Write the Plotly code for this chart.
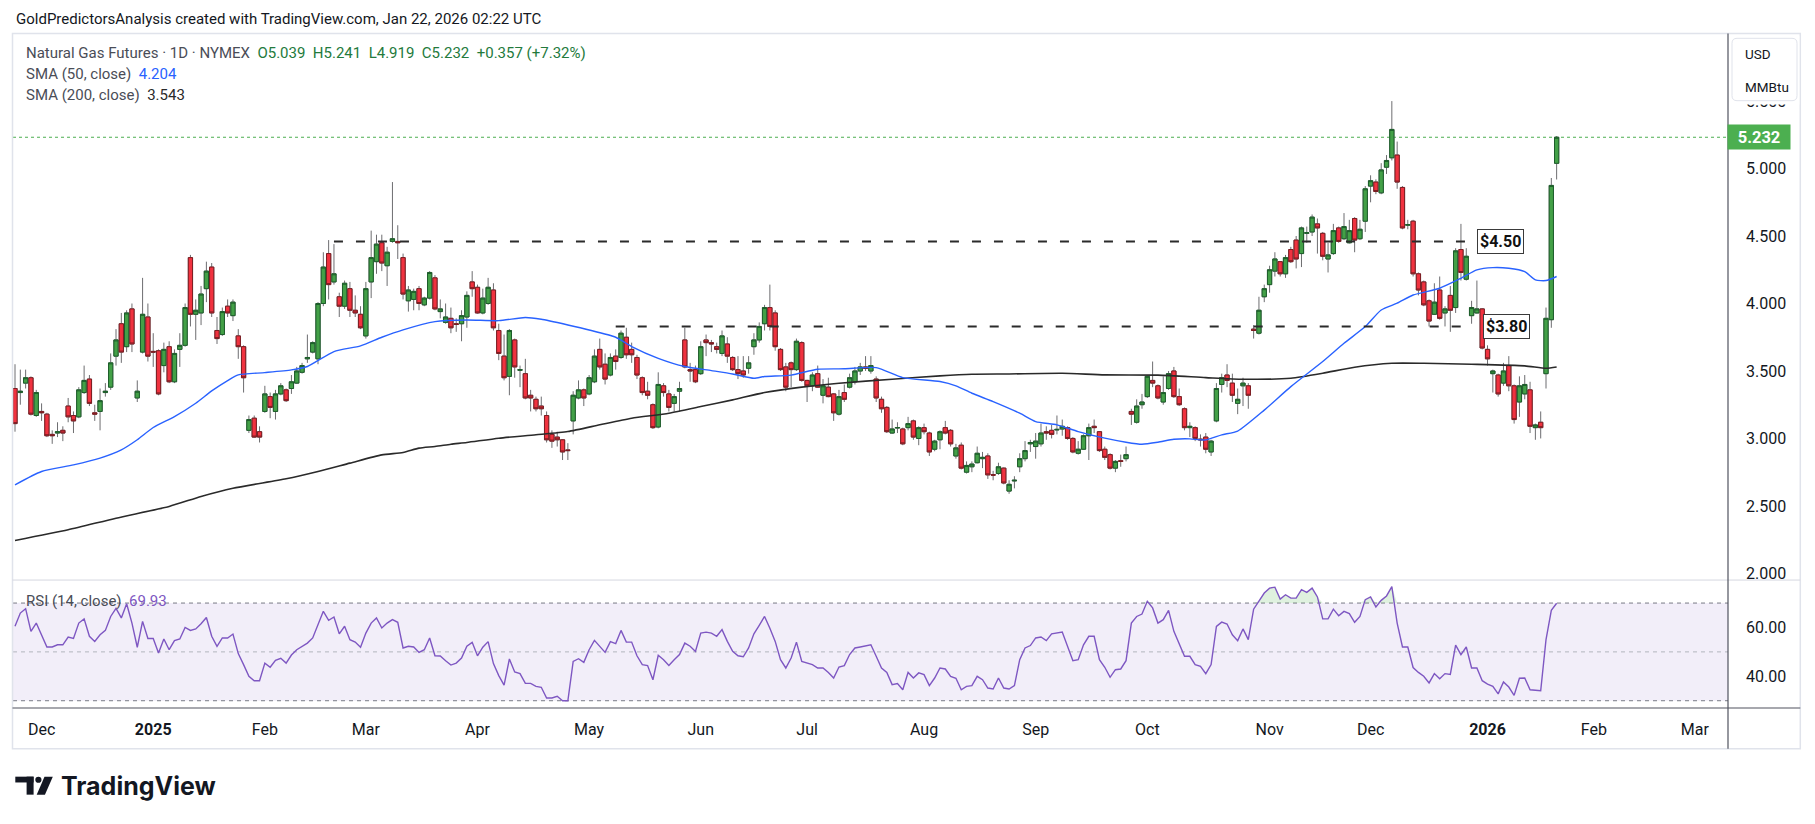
import plotly.graph_objects as go

W, H = 1815, 824
# plot area in page pixels
PL, PR = 12.7, 1727.7
PT, PB = 38.0, 708.3
SEP = 580.0          # bottom of price pane
RSI_TOP = 580.7
X0, SPACING = 14.7, 5.316   # pixel of bar 0 and bar spacing
PX_PER_UNIT = 135.0
LAST_PX = 137.3

# ---------------- data ----------------
open_ = [
    3.37, 3.34, 3.41, 3.45, 3.17, 3.20, 3.18, 3.03, 3.04, 3.06,
    3.24, 3.17, 3.16, 3.34, 3.44, 3.19, 3.20, 3.34, 3.38, 3.61,
    3.85, 3.68, 3.96, 3.30, 3.64, 3.90, 3.645, 3.65, 3.54, 3.68,
    3.42, 3.66, 3.69, 4.34, 3.92, 3.93, 4.11, 4.27, 3.80, 3.77,
    3.98, 3.91, 3.76, 3.68, 3.06, 3.15, 3.05, 3.20, 3.31, 3.20,
    3.33, 3.36, 3.37, 3.41, 3.49, 3.59, 3.64, 3.59, 4.00, 4.37,
    4.16, 4.05, 3.98, 4.11, 3.95, 3.92, 3.76, 4.16, 4.31, 4.45,
    4.28, 4.46, 4.46, 4.34, 4.02, 4.03, 4.11, 3.99, 4.04, 4.19,
    3.94, 3.86, 3.89, 3.85, 3.85, 3.90, 4.16, 4.12, 3.93, 4.00,
    4.10, 3.80, 3.61, 3.46, 3.73, 3.505, 3.48, 3.32, 3.29, 3.24,
    3.17, 3.03, 3.01, 2.99, 2.915, 3.13, 3.30, 3.36, 3.33, 3.42,
    3.66, 3.55, 3.47, 3.61, 3.60, 3.75, 3.66, 3.60, 3.45, 3.35,
    3.25, 3.085, 3.39, 3.33, 3.26, 3.35, 3.73, 3.51, 3.51, 3.48,
    3.73, 3.71, 3.68, 3.63, 3.70, 3.60, 3.51, 3.50, 3.52, 3.68,
    3.73, 3.85, 3.97, 3.93, 3.66, 3.53, 3.56, 3.51, 3.71, 3.43,
    3.39, 3.48, 3.32, 3.38, 3.33, 3.18, 3.34, 3.38, 3.42, 3.50,
    3.53, 3.50, 3.44, 3.29, 3.23, 3.04, 3.077, 3.07, 3.08, 3.13,
    3.00, 3.08, 3.04, 2.92, 2.99, 3.08, 3.06, 2.87, 2.95, 2.75,
    2.79, 2.82, 2.85, 2.87, 2.732, 2.74, 2.78, 2.61, 2.685, 2.79,
    2.85, 2.96, 2.94, 2.96, 3.05, 3.06, 3.063, 3.07, 3.08, 3.00,
    2.89, 2.92, 3.02, 3.09, 3.05, 2.92, 2.88, 2.78, 2.835, 2.85,
    3.20, 3.12, 3.25, 3.31, 3.43, 3.39, 3.27, 3.37, 3.50, 3.31,
    3.22, 3.08, 3.08, 2.995, 3.01, 2.90, 3.13, 3.40, 3.47, 3.41,
    3.26, 3.39, 3.39, 3.81, 3.78, 4.05, 4.14, 4.24, 4.31, 4.22,
    4.40, 4.47, 4.37, 4.52, 4.53, 4.59, 4.52, 4.33, 4.37, 4.56,
    4.48, 4.45, 4.63, 4.48, 4.61, 4.87, 4.90, 4.82, 5.01, 5.08,
    5.10, 4.86, 4.58, 4.61, 4.22, 4.16, 4.02, 3.92, 4.10, 3.93,
    4.06, 3.97, 4.40, 4.18, 3.91, 3.93, 3.96, 3.66, 3.48, 3.47,
    3.41, 3.54, 3.39, 3.27, 3.33, 3.36, 3.08, 3.12, 3.48, 3.88,
    5.039,
]
high = [
    3.55, 3.51, 3.51, 3.46, 3.36, 3.26, 3.19, 3.06, 3.12, 3.09,
    3.30, 3.20, 3.38, 3.54, 3.47, 3.25, 3.37, 3.41, 3.63, 3.81,
    3.93, 3.95, 4.00, 3.43, 4.19, 4.00, 3.78, 3.66, 3.71, 3.72,
    3.66, 3.78, 4.00, 4.36, 4.03, 4.13, 4.31, 4.30, 3.90, 3.97,
    4.03, 4.03, 3.81, 3.69, 3.17, 3.17, 3.09, 3.39, 3.34, 3.36,
    3.41, 3.37, 3.47, 3.53, 3.56, 3.77, 3.72, 4.01, 4.38, 4.47,
    4.44, 4.08, 4.17, 4.16, 4.06, 3.98, 4.16, 4.54, 4.51, 4.51,
    4.42, 4.90, 4.58, 4.37, 4.13, 4.11, 4.13, 4.05, 4.24, 4.21,
    4.03, 4.00, 3.97, 3.89, 3.95, 4.09, 4.24, 4.14, 4.11, 4.19,
    4.15, 3.85, 3.77, 3.81, 3.74, 3.54, 3.59, 3.36, 3.31, 3.31,
    3.20, 3.06, 3.05, 2.995, 2.965, 3.35, 3.43, 3.37, 3.47, 3.66,
    3.74, 3.63, 3.63, 3.66, 3.80, 3.82, 3.71, 3.62, 3.46, 3.42,
    3.26, 3.49, 3.41, 3.36, 3.33, 3.42, 3.82, 3.56, 3.54, 3.72,
    3.77, 3.73, 3.71, 3.80, 3.75, 3.61, 3.61, 3.61, 3.61, 3.78,
    3.86, 3.99, 4.14, 3.95, 3.67, 3.56, 3.57, 3.74, 3.72, 3.435,
    3.49, 3.54, 3.44, 3.45, 3.335, 3.36, 3.40, 3.48, 3.53, 3.56,
    3.61, 3.61, 3.46, 3.31, 3.24, 3.14, 3.12, 3.08, 3.16, 3.14,
    3.09, 3.11, 3.05, 2.99, 3.06, 3.13, 3.07, 2.96, 2.97, 2.83,
    2.83, 2.94, 2.90, 2.89, 2.76, 2.82, 2.785, 2.69, 2.72, 2.89,
    2.98, 2.99, 3.04, 3.11, 3.09, 3.10, 3.17, 3.14, 3.09, 3.01,
    2.98, 3.03, 3.11, 3.14, 3.055, 2.94, 2.89, 2.84, 2.88, 2.94,
    3.22, 3.29, 3.33, 3.465, 3.57, 3.40, 3.46, 3.50, 3.53, 3.37,
    3.23, 3.12, 3.09, 3.03, 3.04, 2.99, 3.41, 3.48, 3.55, 3.48,
    3.37, 3.45, 3.41, 3.84, 4.05, 4.14, 4.28, 4.38, 4.315, 4.36,
    4.42, 4.50, 4.57, 4.57, 4.66, 4.63, 4.53, 4.45, 4.59, 4.57,
    4.67, 4.62, 4.64, 4.62, 4.87, 4.95, 4.92, 5.04, 5.10, 5.50,
    5.20, 4.87, 4.62, 4.62, 4.23, 4.17, 4.03, 4.15, 4.20, 3.98,
    4.13, 4.41, 4.59, 4.41, 4.02, 4.17, 3.965, 3.69, 3.51, 3.48,
    3.56, 3.61, 3.40, 3.46, 3.47, 3.42, 3.11, 3.20, 3.97, 4.93,
    5.241,
]
low = [
    3.05, 3.25, 3.37, 3.17, 3.16, 3.13, 3.01, 2.96, 3.01, 2.98,
    3.12, 3.04, 3.15, 3.33, 3.24, 3.13, 3.06, 3.31, 3.36, 3.54,
    3.56, 3.64, 3.64, 3.27, 3.63, 3.57, 3.53, 3.32, 3.49, 3.41,
    3.41, 3.53, 3.68, 3.83, 3.73, 3.84, 4.01, 3.90, 3.70, 3.76,
    3.90, 3.87, 3.59, 3.34, 3.04, 3.005, 2.97, 3.19, 3.15, 3.14,
    3.32, 3.27, 3.33, 3.405, 3.48, 3.56, 3.63, 3.55, 3.98, 4.03,
    4.14, 3.90, 3.96, 3.90, 3.90, 3.81, 3.74, 4.04, 4.22, 4.24,
    4.13, 4.45, 4.33, 4.03, 3.94, 3.95, 3.95, 3.98, 4.03, 3.95,
    3.89, 3.85, 3.78, 3.79, 3.72, 3.82, 4.05, 3.925, 3.92, 3.99,
    3.80, 3.58, 3.43, 3.32, 3.45, 3.38, 3.29, 3.20, 3.20, 3.17,
    2.97, 2.93, 2.94, 2.84, 2.84, 3.03, 3.29, 3.24, 3.32, 3.41,
    3.51, 3.40, 3.46, 3.51, 3.59, 3.59, 3.56, 3.44, 3.32, 3.29,
    3.07, 3.075, 3.31, 3.20, 3.20, 3.20, 3.52, 3.42, 3.41, 3.47,
    3.61, 3.64, 3.63, 3.61, 3.56, 3.50, 3.44, 3.45, 3.48, 3.62,
    3.71, 3.80, 3.80, 3.65, 3.50, 3.35, 3.38, 3.50, 3.42, 3.27,
    3.35, 3.375, 3.26, 3.305, 3.13, 3.17, 3.27, 3.37, 3.40, 3.47,
    3.50, 3.48, 3.27, 3.19, 3.04, 3.035, 3.04, 2.95, 3.06, 2.99,
    2.95, 3.03, 2.87, 2.905, 2.92, 3.03, 2.94, 2.85, 2.77, 2.74,
    2.75, 2.815, 2.78, 2.70, 2.69, 2.73, 2.66, 2.59, 2.63, 2.75,
    2.83, 2.90, 2.85, 2.94, 2.99, 3.00, 3.03, 3.02, 2.99, 2.89,
    2.88, 2.915, 2.84, 3.04, 2.90, 2.84, 2.77, 2.75, 2.79, 2.83,
    3.10, 3.11, 3.22, 3.30, 3.38, 3.29, 3.25, 3.36, 3.30, 3.24,
    3.06, 3.01, 2.98, 2.94, 2.89, 2.87, 3.12, 3.34, 3.38, 3.27,
    3.18, 3.24, 3.22, 3.74, 3.77, 4.01, 4.08, 4.20, 4.20, 4.19,
    4.30, 4.26, 4.27, 4.45, 4.50, 4.37, 4.32, 4.23, 4.36, 4.45,
    4.47, 4.445, 4.38, 4.47, 4.53, 4.75, 4.81, 4.81, 4.96, 5.06,
    4.85, 4.55, 4.55, 4.20, 4.06, 3.98, 3.83, 3.915, 3.88, 3.83,
    3.79, 3.93, 4.17, 4.17, 3.85, 3.925, 3.66, 3.54, 3.34, 3.31,
    3.39, 3.35, 3.11, 3.16, 3.29, 3.04, 2.99, 3.00, 3.37, 3.82,
    4.919,
]
close = [
    3.11, 3.35, 3.45, 3.18, 3.34, 3.19, 3.02, 3.02, 3.05, 3.04,
    3.16, 3.13, 3.36, 3.43, 3.26, 3.18, 3.28, 3.35, 3.56, 3.73,
    3.64, 3.93, 3.70, 3.35, 3.92, 3.61, 3.64, 3.33, 3.66, 3.42,
    3.63, 3.69, 3.97, 3.92, 3.95, 4.07, 4.24, 3.93, 3.74, 3.94,
    3.93, 4.01, 3.68, 3.45, 3.14, 3.01, 3.01, 3.33, 3.23, 3.33,
    3.39, 3.28, 3.42, 3.50, 3.54, 3.60, 3.71, 4.00, 4.27, 4.14,
    4.22, 3.98, 4.15, 3.95, 3.93, 3.82, 4.11, 4.34, 4.44, 4.30,
    4.38, 4.48, 4.45, 4.07, 4.10, 4.09, 4.00, 4.04, 4.23, 3.96,
    3.96, 3.90, 3.82, 3.845, 3.91, 4.06, 4.11, 3.93, 4.04, 4.12,
    3.82, 3.63, 3.45, 3.80, 3.53, 3.51, 3.30, 3.30, 3.22, 3.22,
    2.99, 2.98, 2.99, 2.90, 2.91, 3.32, 3.36, 3.30, 3.45, 3.61,
    3.53, 3.44, 3.60, 3.57, 3.78, 3.62, 3.62, 3.47, 3.34, 3.32,
    3.08, 3.40, 3.34, 3.23, 3.31, 3.37, 3.53, 3.50, 3.42, 3.68,
    3.71, 3.70, 3.66, 3.76, 3.61, 3.51, 3.48, 3.47, 3.56, 3.73,
    3.83, 3.97, 3.83, 3.68, 3.51, 3.38, 3.51, 3.72, 3.43, 3.39,
    3.47, 3.38, 3.39, 3.31, 3.19, 3.31, 3.29, 3.45, 3.50, 3.53,
    3.52, 3.54, 3.30, 3.22, 3.05, 3.07, 3.081, 2.96, 3.11, 3.01,
    3.08, 3.05, 2.90, 2.98, 3.05, 3.04, 2.96, 2.93, 2.78, 2.80,
    2.81, 2.89, 2.86, 2.73, 2.728, 2.79, 2.67, 2.66, 2.69, 2.85,
    2.91, 2.97, 2.98, 3.04, 3.04, 3.03, 3.067, 3.09, 3.00, 2.90,
    2.92, 3.02, 3.08, 3.08, 2.91, 2.86, 2.78, 2.83, 2.83, 2.88,
    3.18, 3.24, 3.27, 3.46, 3.41, 3.30, 3.34, 3.48, 3.31, 3.25,
    3.08, 3.09, 3.00, 2.99, 2.92, 2.98, 3.37, 3.45, 3.43, 3.32,
    3.29, 3.41, 3.32, 3.80, 3.95, 4.11, 4.25, 4.33, 4.22, 4.34,
    4.31, 4.33, 4.56, 4.525, 4.64, 4.56, 4.35, 4.36, 4.54, 4.46,
    4.57, 4.54, 4.47, 4.55, 4.85, 4.91, 4.83, 4.99, 5.06, 5.29,
    4.90, 4.56, 4.585, 4.22, 4.10, 3.99, 3.87, 4.01, 3.89, 3.96,
    3.95, 4.39, 4.23, 4.35, 3.97, 3.96, 3.67, 3.59, 3.50, 3.33,
    3.50, 3.39, 3.14, 3.39, 3.40, 3.09, 3.10, 3.08, 3.89, 4.875,
    5.232,
]

sma50_idx = [0, 5, 11, 16, 20, 23, 26, 30, 34, 37, 40, 42, 47, 52, 55, 60, 65, 69,
             73, 79, 85, 91, 96, 99, 104, 108, 113, 116, 121, 126, 131, 135, 139,
             141, 146, 151, 156, 162, 167, 174, 177, 180, 184, 189, 192, 196, 200,
             205, 209, 212, 215, 218, 221, 224, 227, 230, 235, 240, 246, 250, 254,
             257, 260, 263, 268, 272, 275, 278, 281, 284, 286, 288, 290]
sma50_val = [2.656, 2.755, 2.804, 2.854, 2.915, 2.990, 3.081, 3.162, 3.261, 3.352,
             3.429, 3.471, 3.488, 3.508, 3.533, 3.644, 3.686, 3.750, 3.805, 3.866,
             3.878, 3.873, 3.896, 3.883, 3.841, 3.804, 3.750, 3.681, 3.594, 3.533,
             3.503, 3.478, 3.446, 3.459, 3.469, 3.513, 3.516, 3.525, 3.451, 3.422,
             3.390, 3.335, 3.273, 3.187, 3.125, 3.101, 3.051, 3.002, 2.972, 2.957,
             2.972, 2.994, 2.997, 2.989, 3.027, 3.055, 3.210, 3.384, 3.570, 3.705,
             3.829, 3.952, 4.002, 4.063, 4.113, 4.187, 4.249, 4.266, 4.261, 4.236,
             4.175, 4.170, 4.200]

sma200_idx = [0, 10, 19, 29, 35, 41, 51, 57, 63, 69, 73, 76, 79, 82, 85, 91, 98,
              104, 110, 116, 123, 129, 135, 141, 148, 155, 165, 174, 180, 187, 197,
              205, 215, 224, 231, 240, 246, 252, 259, 265, 274, 284, 288, 290]
sma200_val = [2.244, 2.323, 2.409, 2.496, 2.570, 2.631, 2.701, 2.755, 2.817, 2.878,
              2.896, 2.928, 2.940, 2.957, 2.970, 3.002, 3.027, 3.051, 3.101, 3.150,
              3.187, 3.236, 3.286, 3.340, 3.380, 3.409, 3.439, 3.464, 3.476, 3.478,
              3.483, 3.471, 3.469, 3.451, 3.439, 3.446, 3.483, 3.528, 3.557, 3.557,
              3.550, 3.538, 3.520, 3.530]

rsi = [
    60.5, 65.9, 67.7, 58.4, 61.8, None, 52.0, 52.0, 52.9, 52.9,
    56.1, 55.5, 61.8, 63.5, 56.4, 54.3, 57.0, 58.8, 64.5, 67.8,
    63.9, 69.7, 61.8, 51.9, 62.5, 55.5, 55.5, 49.5, 55.3, 50.9,
    54.6, 55.3, 60.0, 58.8, 59.4, 61.5, 64.1, 56.4, 52.3, 55.7,
    55.7, 57.3, 49.3, 44.8, 40.0, 38.2, 38.2, 45.4, 43.7, 46.5,
    47.4, 45.4, 48.7, 50.9, 52.3, 53.6, 55.7, 61.1, 66.6, 62.9,
    64.3, 57.4, 60.5, 55.0, 54.0, 51.9, 57.7, 61.8, 63.9, 59.8,
    61.8, 63.2, 62.1, 51.6, 52.3, 52.0, 49.8, 50.9, 55.7, 48.4,
    48.3, 46.4, 44.6, 45.4, 47.5, 52.3, 53.9, 48.4, 51.9, 54.2,
    45.2, 40.3, 36.4, 47.1, 41.8, 41.1, 37.1, 37.1, 35.9, 35.5,
    31.1, 31.1, 31.8, 30.0, 30.0, 46.1, 47.2, 45.7, 50.9, 54.7,
    52.3, 49.8, 54.2, 53.4, 58.8, 54.0, 54.0, 48.4, 44.8, 44.4,
    38.6, 48.6, 46.8, 44.4, 46.8, 48.9, 53.6, 52.3, 50.2, 57.7,
    58.1, 57.7, 56.4, 59.1, 54.3, 50.2, 48.4, 48.0, 51.6, 57.4,
    60.9, 64.5, 59.7, 54.3, 46.8, 43.4, 47.5, 54.0, 46.1, 45.4,
    44.8, 43.4, 43.4, 41.6, 39.3, 43.8, 44.4, 48.9, 51.6, 52.0,
    52.3, 52.9, 48.2, 43.4, 41.6, 36.6, 37.0, 34.5, 41.6, 39.3,
    41.4, 40.7, 36.2, 39.3, 43.4, 43.0, 40.0, 39.2, 34.5, 35.9,
    36.2, 40.0, 38.6, 35.2, 34.8, 39.3, 35.2, 34.8, 36.2, 46.8,
    51.6, 52.6, 55.7, 56.1, 54.6, 57.4, None, 58.1, 52.3, 46.4,
    46.8, 52.9, 56.4, 56.4, 46.8, 43.7, 39.6, 42.7, 43.0, 46.4,
    61.8, 64.5, 65.5, 70.7, 68.0, 61.8, 63.2, 67.0, 58.4, 53.6,
    48.2, 48.2, 44.8, 44.1, 41.1, 44.8, 60.4, 62.2, 61.4, 57.0,
    54.6, 59.4, 55.0, 67.5, 70.7, 74.1, 76.1, 76.5, 71.6, 73.4,
    72.0, 72.0, 75.5, 74.4, 76.1, 72.5, 63.5, 63.5, 67.5, 64.8,
    66.6, 65.7, 62.1, 64.5, 71.4, 72.5, 68.4, 71.1, 72.9, 76.7,
    61.8, 52.0, 52.0, 43.6, 41.6, 40.0, 37.3, 41.1, 39.0, 41.1,
    40.8, 52.8, 48.9, 52.0, 43.4, 43.4, 38.2, 36.8, 35.9, 32.8,
    37.7, 35.6, 32.2, 39.2, 39.3, 34.5, 34.3, 34.1, 55.0, 67.0,
    69.93,
]

month_idx = [5, 26, 47, 66, 87, 108, 129, 149, 171, 192, 213, 236, 255, 277, 297, 316]
month_txt = ['Dec', '<b>2025</b>', 'Feb', 'Mar', 'Apr', 'May', 'Jun', 'Jul', 'Aug',
             'Sep', 'Oct', 'Nov', 'Dec', '<b>2026</b>', 'Feb', 'Mar']
price_ticks = [2.0, 2.5, 3.0, 3.5, 4.0, 4.5, 5.0, 5.5]
price_tick_txt = ['2.000', '2.500', '3.000', '3.500', '4.000', '4.500', '5.000', '5.500']
rsi_ticks = [40, 60]
rsi_tick_txt = ['40.00', '60.00']
rsi_levels = [70, 50, 30]

levels = [4.46, 3.83]
level_start = [60, 113]
level_end = [273, 274]
level_txt = ['$4.50', '$3.80']
level_label_x = [279.4, 280.6]
last_price = 5.232

# ---------------- helpers (pixel -> paper) ----------------
def fx(px):
    return (px - PL) / (PR - PL)


def fy(py):
    return (PB - py) / (PB - PT)


FONT = 'Roboto, "Noto Sans", sans-serif'
TXT = '#131722'
GRAY = '#4a4d57'
UP_FILL, UP_EDGE = '#43a047', '#1d5e2b'
DN_FILL, DN_EDGE = '#f0323f', '#7c1d22'
WICK = '#6d6d70'

x = list(range(len(close)))
body_hi = [max(a, b) for a, b in zip(open_, close)]
body_lo = [min(a, b) for a, b in zip(open_, close)]

fig = go.Figure()

# wicks
fig.add_trace(go.Candlestick(
    x=x, open=open_, high=high, low=low, close=close,
    increasing=dict(line=dict(color=WICK, width=1), fillcolor='rgba(0,0,0,0)'),
    decreasing=dict(line=dict(color=WICK, width=1), fillcolor='rgba(0,0,0,0)'),
    xaxis='x', yaxis='y', showlegend=False, hoverinfo='skip'))
# bodies
fig.add_trace(go.Candlestick(
    x=x, open=open_, high=body_hi, low=body_lo, close=close,
    increasing=dict(line=dict(color=UP_EDGE, width=1), fillcolor=UP_FILL),
    decreasing=dict(line=dict(color=DN_EDGE, width=1), fillcolor=DN_FILL),
    xaxis='x', yaxis='y', showlegend=False, hoverinfo='skip'))

fig.add_trace(go.Scatter(x=sma200_idx, y=sma200_val, mode='lines',
                         line=dict(color='#2a2a2a', width=1.6, shape='spline', smoothing=0.6),
                         xaxis='x', yaxis='y', showlegend=False, hoverinfo='skip'))
fig.add_trace(go.Scatter(x=sma50_idx, y=sma50_val, mode='lines',
                         line=dict(color='#2962ff', width=1.4, shape='spline', smoothing=0.6),
                         xaxis='x', yaxis='y', showlegend=False, hoverinfo='skip'))

# RSI overbought fill
fig.add_trace(go.Scatter(x=x, y=[70] * len(x), mode='lines', line=dict(width=0),
                         xaxis='x2', yaxis='y2', showlegend=False, hoverinfo='skip'))
fig.add_trace(go.Scatter(x=x, y=[max(v, 70) if v is not None else 70 for v in rsi],
                         mode='lines', line=dict(width=0), fill='tonexty',
                         fillcolor='rgba(76,175,80,0.18)',
                         xaxis='x2', yaxis='y2', showlegend=False, hoverinfo='skip'))
fig.add_trace(go.Scatter(x=x, y=rsi, mode='lines', connectgaps=True,
                         line=dict(color='#7e57c2', width=1.4),
                         xaxis='x2', yaxis='y2', showlegend=False, hoverinfo='skip'))

# ---------------- ranges / domains ----------------
x_range = [(PL - X0) / SPACING, (PR - X0) / SPACING]
price_range = [last_price - (SEP - LAST_PX) / PX_PER_UNIT,
               last_price + (LAST_PX - PT) / PX_PER_UNIT]
RSI_PX = 2.443
rsi_range = [70 - (PB - 603.3) / RSI_PX, 70 + (603.3 - RSI_TOP) / RSI_PX]
price_dom = [(PB - SEP) / (PB - PT), 1]
rsi_dom = [0, (PB - RSI_TOP) / (PB - PT)]

shapes = []
# RSI band
shapes.append(dict(type='rect', xref='paper', yref='y2', x0=0, x1=1, y0=30, y1=70,
                   fillcolor='rgba(126,87,194,0.10)', line=dict(width=0), layer='below'))
for lv in rsi_levels:
    shapes.append(dict(type='line', xref='paper', yref='y2', x0=0, x1=1, y0=lv, y1=lv,
                       line=dict(color='#787b86' if lv != 50 else '#b2b5be', width=1,
                                 dash='4px,4px'), layer='below'))
# last price dotted line
shapes.append(dict(type='line', xref='paper', yref='y', x0=0, x1=1, y0=last_price, y1=last_price,
                   line=dict(color='#4caf50', width=1, dash='dot'), layer='below'))
# support / resistance lines
for lv, s, e in zip(levels, level_start, level_end):
    shapes.append(dict(type='line', xref='x', yref='y', x0=s, x1=e, y0=lv, y1=lv,
                       line=dict(color='#2b2b2b', width=2, dash='9px,13px'), layer='above'))
# frame and separators
FR_L, FR_R, FR_T, FR_B = 12.2, 1800.0, 33.5, 749.0
shapes.append(dict(type='rect', xref='paper', yref='paper', x0=fx(FR_L), x1=fx(FR_R),
                   y0=fy(FR_B), y1=fy(FR_T), line=dict(color='#e0e3eb', width=1.5),
                   fillcolor='rgba(0,0,0,0)', layer='above'))
shapes.append(dict(type='line', xref='paper', yref='paper', x0=fx(FR_L), x1=fx(FR_R),
                   y0=fy(580.3), y1=fy(580.3), line=dict(color='#d6d8e0', width=1), layer='above'))
shapes.append(dict(type='line', xref='paper', yref='paper', x0=fx(FR_L), x1=fx(FR_R),
                   y0=fy(PB), y1=fy(PB), line=dict(color='#50535e', width=1.2), layer='above'))
shapes.append(dict(type='line', xref='paper', yref='paper', x0=fx(PR), x1=fx(PR),
                   y0=fy(FR_B), y1=fy(FR_T), line=dict(color='#50535e', width=1.2), layer='above'))


def rounded_rect(x0, y0, x1, y1, r):
    pts = (f"M {fx(x0 + r)} {fy(y0)} L {fx(x1 - r)} {fy(y0)} "
           f"Q {fx(x1)} {fy(y0)} {fx(x1)} {fy(y0 + r)} L {fx(x1)} {fy(y1 - r)} "
           f"Q {fx(x1)} {fy(y1)} {fx(x1 - r)} {fy(y1)} L {fx(x0 + r)} {fy(y1)} "
           f"Q {fx(x0)} {fy(y1)} {fx(x0)} {fy(y1 - r)} L {fx(x0)} {fy(y0 + r)} "
           f"Q {fx(x0)} {fy(y0)} {fx(x0 + r)} {fy(y0)} Z")
    return pts


# white strip hiding most of the partially covered 5.500 label
shapes.append(dict(type='rect', xref='paper', yref='paper', x0=fx(1729), x1=fx(1799),
                   y0=fy(104.5), y1=fy(36), fillcolor='white', line=dict(width=0), layer='above'))
# USD / MMBtu box
shapes.append(dict(type='path', xref='paper', yref='paper',
                   path=rounded_rect(1731.7, 38.3, 1796.7, 100.7, 5),
                   fillcolor='white', line=dict(color='#e0e3eb', width=1), layer='above'))

# TradingView logo glyph
LOGO = '#131722'
shapes.append(dict(type='rect', xref='paper', yref='paper', x0=fx(15), x1=fx(33.3),
                   y0=fy(782.8), y1=fy(777), fillcolor=LOGO, line=dict(width=0), layer='above'))
shapes.append(dict(type='rect', xref='paper', yref='paper', x0=fx(26.3), x1=fx(33.3),
                   y0=fy(795), y1=fy(777), fillcolor=LOGO, line=dict(width=0), layer='above'))
shapes.append(dict(type='circle', xref='paper', yref='paper', x0=fx(35), x1=fx(41.2),
                   y0=fy(783.2), y1=fy(777), fillcolor=LOGO, line=dict(width=0), layer='above'))
shapes.append(dict(type='path', xref='paper', yref='paper',
                   path=(f"M {fx(44.2)} {fy(777)} L {fx(52.5)} {fy(777)} "
                         f"L {fx(44.6)} {fy(795)} L {fx(36.4)} {fy(795)} Z"),
                   fillcolor=LOGO, line=dict(width=0), layer='above'))

annotations = []
annotations.append(dict(xref='paper', yref='paper', x=fx(13.5), y=fy(18.5), xanchor='left',
                        yanchor='middle', showarrow=False,
                        text='GoldPredictorsAnalysis created with TradingView.com, Jan 22, 2026 02:22 UTC',
                        font=dict(family=FONT, size=15, color=TXT)))
NB = '\u00a0'
annotations.append(dict(xref='paper', yref='paper', x=fx(23.7), y=fy(53.3), xanchor='left',
                        yanchor='middle', showarrow=False,
                        text=(f'Natural Gas Futures · 1D · NYMEX{NB}{NB}'
                              f'<span style="color:#237a3c">O5.039{NB}{NB}H5.241{NB}{NB}L4.919{NB}{NB}'
                              f'C5.232{NB}{NB}+0.357 (+7.32%)</span>'),
                        font=dict(family=FONT, size=15, color=GRAY)))
annotations.append(dict(xref='paper', yref='paper', x=fx(23.7), y=fy(74.5), xanchor='left',
                        yanchor='middle', showarrow=False,
                        text=f'SMA (50, close){NB}{NB}<span style="color:#2962ff">4.204</span>',
                        font=dict(family=FONT, size=15, color=GRAY)))
annotations.append(dict(xref='paper', yref='paper', x=fx(23.7), y=fy(95.5), xanchor='left',
                        yanchor='middle', showarrow=False,
                        text=f'SMA (200, close){NB}{NB}<span style="color:#2a2a2a">3.543</span>',
                        font=dict(family=FONT, size=15, color=GRAY)))
annotations.append(dict(xref='paper', yref='paper', x=fx(23.7), y=fy(601), xanchor='left',
                        yanchor='middle', showarrow=False,
                        text=f'RSI (14, close){NB}{NB}<span style="color:#7e57c2">69.93</span>',
                        font=dict(family=FONT, size=15, color=GRAY)))
# level labels
for lv, lx, t in zip(levels, level_label_x, level_txt):
    annotations.append(dict(xref='x', yref='y', x=lx, y=lv, xanchor='center', yanchor='middle',
                            showarrow=False, text=f'<b>{t}</b>', bgcolor='white',
                            bordercolor='#3a3a3a', borderwidth=1, borderpad=2,
                            font=dict(family=FONT, size=16, color='#111111')))
# last price label
annotations.append(dict(xref='paper', yref='y', x=fx(1758.3), y=last_price, xanchor='center',
                        yanchor='middle', showarrow=False, text=f'<b>{last_price:.3f}</b>',
                        bgcolor='#4caf50', borderpad=1, width=60, height=22,
                        font=dict(family=FONT, size=16.5, color='white')))
# USD box text
annotations.append(dict(xref='paper', yref='paper', x=fx(1743), y=fy(54), xanchor='left',
                        yanchor='middle', showarrow=False, text='USD',
                        font=dict(family=FONT, size=13.5, color=TXT)))
annotations.append(dict(xref='paper', yref='paper', x=fx(1742.5), y=fy(86.7), xanchor='left',
                        yanchor='middle', showarrow=False, text='MMBtu',
                        font=dict(family=FONT, size=13.5, color=TXT)))
# TradingView wordmark
annotations.append(dict(xref='paper', yref='paper', x=fx(59), y=fy(786), xanchor='left',
                        yanchor='middle', showarrow=False, text='<b>TradingView</b>',
                        font=dict(family='Inter, Roboto, sans-serif', size=25, color=LOGO)))

axis_font = dict(family=FONT, size=16, color=TXT)
fig.update_layout(
    width=W, height=H,
    margin=dict(l=PL, r=W - PR, t=PT, b=H - PB, pad=0),
    paper_bgcolor='white', plot_bgcolor='white',
    hovermode=False, showlegend=False,
    boxgap=0.2, boxgroupgap=0,
    xaxis=dict(domain=[0, 1], anchor='y', range=x_range, showticklabels=False,
               showgrid=False, zeroline=False, showline=False, ticks='',
               rangeslider=dict(visible=False)),
    yaxis=dict(domain=price_dom, anchor='x', range=price_range, side='right',
               tickvals=price_ticks, ticktext=price_tick_txt, showgrid=False,
               zeroline=False, showline=False, ticks='', ticklabelstandoff=17,
               tickfont=axis_font),
    xaxis2=dict(domain=[0, 1], anchor='y2', range=x_range, tickvals=month_idx,
                ticktext=month_txt, showgrid=False, zeroline=False, showline=False,
                ticks='', ticklabelstandoff=10, tickfont=axis_font,
                rangeslider=dict(visible=False)),
    yaxis2=dict(domain=rsi_dom, anchor='x2', range=rsi_range, side='right',
                tickvals=rsi_ticks, ticktext=rsi_tick_txt, showgrid=False,
                zeroline=False, showline=False, ticks='', ticklabelstandoff=17,
                tickfont=axis_font),
    shapes=shapes,
    annotations=annotations,
)

fig.write_html("out.html")
